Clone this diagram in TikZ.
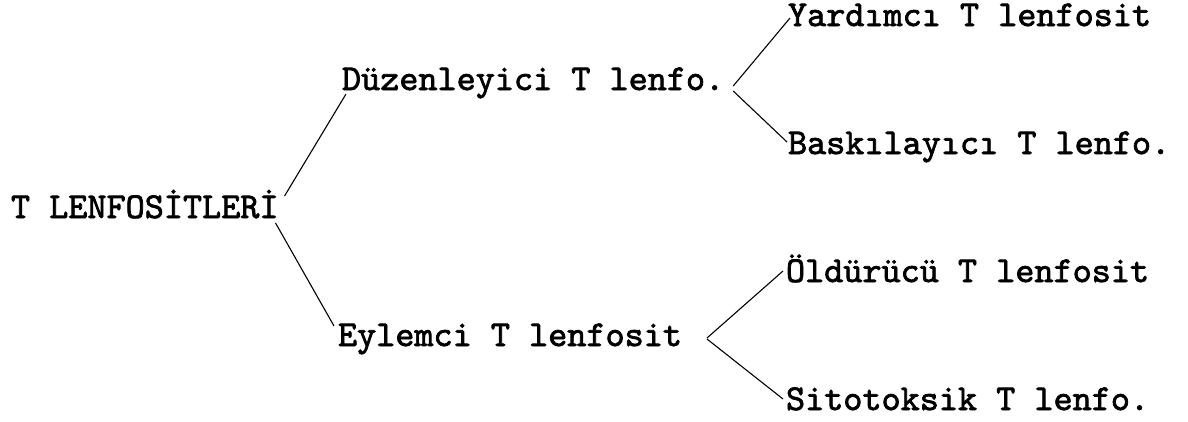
\documentclass[tikz,border=0pt]{standalone}
\usepackage{fontspec}
\newfontfamily\twfont{lmmono10-regular.otf}[FakeBold=2]
\begin{document}
\begin{tikzpicture}[x=1pt,y=-1pt,
  lbl/.style={anchor=base west,inner sep=0pt,outer sep=0pt,
    font=\twfont\fontsize{36.4}{40}\selectfont},
  conn/.style={line width=1.1pt,black}]
\useasboundingbox (0,0) rectangle (1188,421);
\node[lbl] (root) at (11,218) {T LENFOSİTLERİ};
\node[lbl] (duz)  at (342,90) {Düzenleyici T lenfo.};
\node[lbl] (eyl)  at (338,346) {Eylemci T lenfosit};
\node[lbl] (yard) at (788,26) {Yardımcı T lenfosit};
\node[lbl] (bask) at (788,154) {Baskılayıcı T lenfo.};
\node[lbl] (old)  at (786,282) {Öldürücü T lenfosit};
\node[lbl] (sito) at (786,410) {Sitotoksik T lenfo.};
\draw[conn] ([shift={(6,-22)}]root.base east) -- ([shift={(4,4)}]duz.base west);
\draw[conn] ([shift={(-3,5)}]root.base east) -- ([shift={(-4,-20)}]eyl.base west);
\draw[conn] ([shift={(9,-4)}]duz.base east) -- ([shift={(2,-8)}]yard.base west);
\draw[conn] ([shift={(9,1)}]duz.base east) -- ([shift={(-1,-12)}]bask.base west);
\draw[conn] ([shift={(25,-8)}]eyl.base east) -- ([shift={(-3,-11)}]old.base west);
\draw[conn] ([shift={(25,-7)}]eyl.base east) -- ([shift={(-3,-11)}]sito.base west);
\end{tikzpicture}
\end{document}
